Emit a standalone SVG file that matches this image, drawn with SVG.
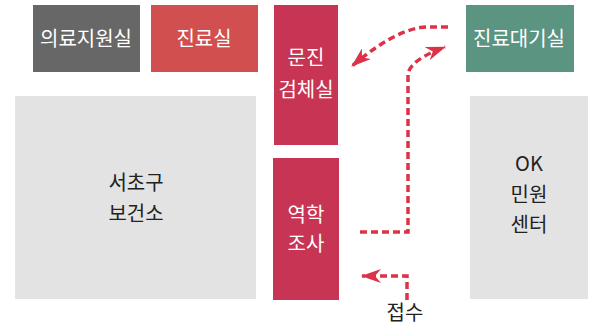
<svg xmlns="http://www.w3.org/2000/svg" width="604" height="329" viewBox="0 0 604 329">
<style>
text{font-family:"Noto Sans CJK KR","Noto Sans",sans-serif;font-size:20px;text-anchor:middle}
.w{fill:#ffffff}
.k{fill:#222222}
.red{fill:#c83453}
.gray{fill:#e3e3e3}
.conn{fill:none;stroke:#dc3348;stroke-width:3.5;stroke-dasharray:7 4}
</style>
<defs>
<marker id="ah" markerUnits="userSpaceOnUse" markerWidth="20" markerHeight="14" refX="19" refY="7" orient="auto" viewBox="0 0 20 14">
<path d="M0,0 L20,7 L0,14 L6,7 z" fill="#dc3348"/>
</marker>
</defs>
<rect width="604" height="329" fill="#ffffff"/>
<g id="n-uiryo">
<rect x="33" y="5" width="107" height="67" fill="#676767"/>
<text class="w" x="86" y="46">의료지원실</text>
</g>
<g id="n-jinryo">
<rect x="151" y="5" width="107" height="67" fill="#d24f4f"/>
<text class="w" x="204" y="46">진료실</text>
</g>
<g id="n-munjin">
<rect class="red" x="274" y="5" width="64" height="140"/>
<text class="w" x="306" y="65">문진</text>
<text class="w" x="306" y="97">검체실</text>
</g>
<g id="n-daegi">
<rect x="466" y="5" width="108" height="67" fill="#5b9481"/>
<text class="w" x="519" y="46">진료대기실</text>
</g>
<g id="n-bogeonso">
<rect class="gray" x="15" y="96" width="241" height="203"/>
<text class="k" x="136" y="190">서초구</text>
<text class="k" x="136" y="221">보건소</text>
</g>
<g id="n-yeokhak">
<rect class="red" x="273" y="158" width="66" height="142"/>
<text class="w" x="306" y="222">역학</text>
<text class="w" x="306" y="251">조사</text>
</g>
<g id="n-ok">
<rect class="gray" x="470" y="96" width="118" height="203"/>
<text class="k" x="529" y="171">OK</text>
<text class="k" x="529" y="202">민원</text>
<text class="k" x="529" y="232">센터</text>
</g>
<g id="connectors">
<path class="conn" d="M448,27 H428 C410,27 385,38 352,66" marker-end="url(#ah)"/>
<path class="conn" d="M360,232 H408 V74 Q410,60 445,47" marker-end="url(#ah)"/>
<path class="conn" d="M407,300 V276 H362" marker-end="url(#ah)"/>
</g>
<text class="k" x="405" y="320">접수</text>
</svg>
